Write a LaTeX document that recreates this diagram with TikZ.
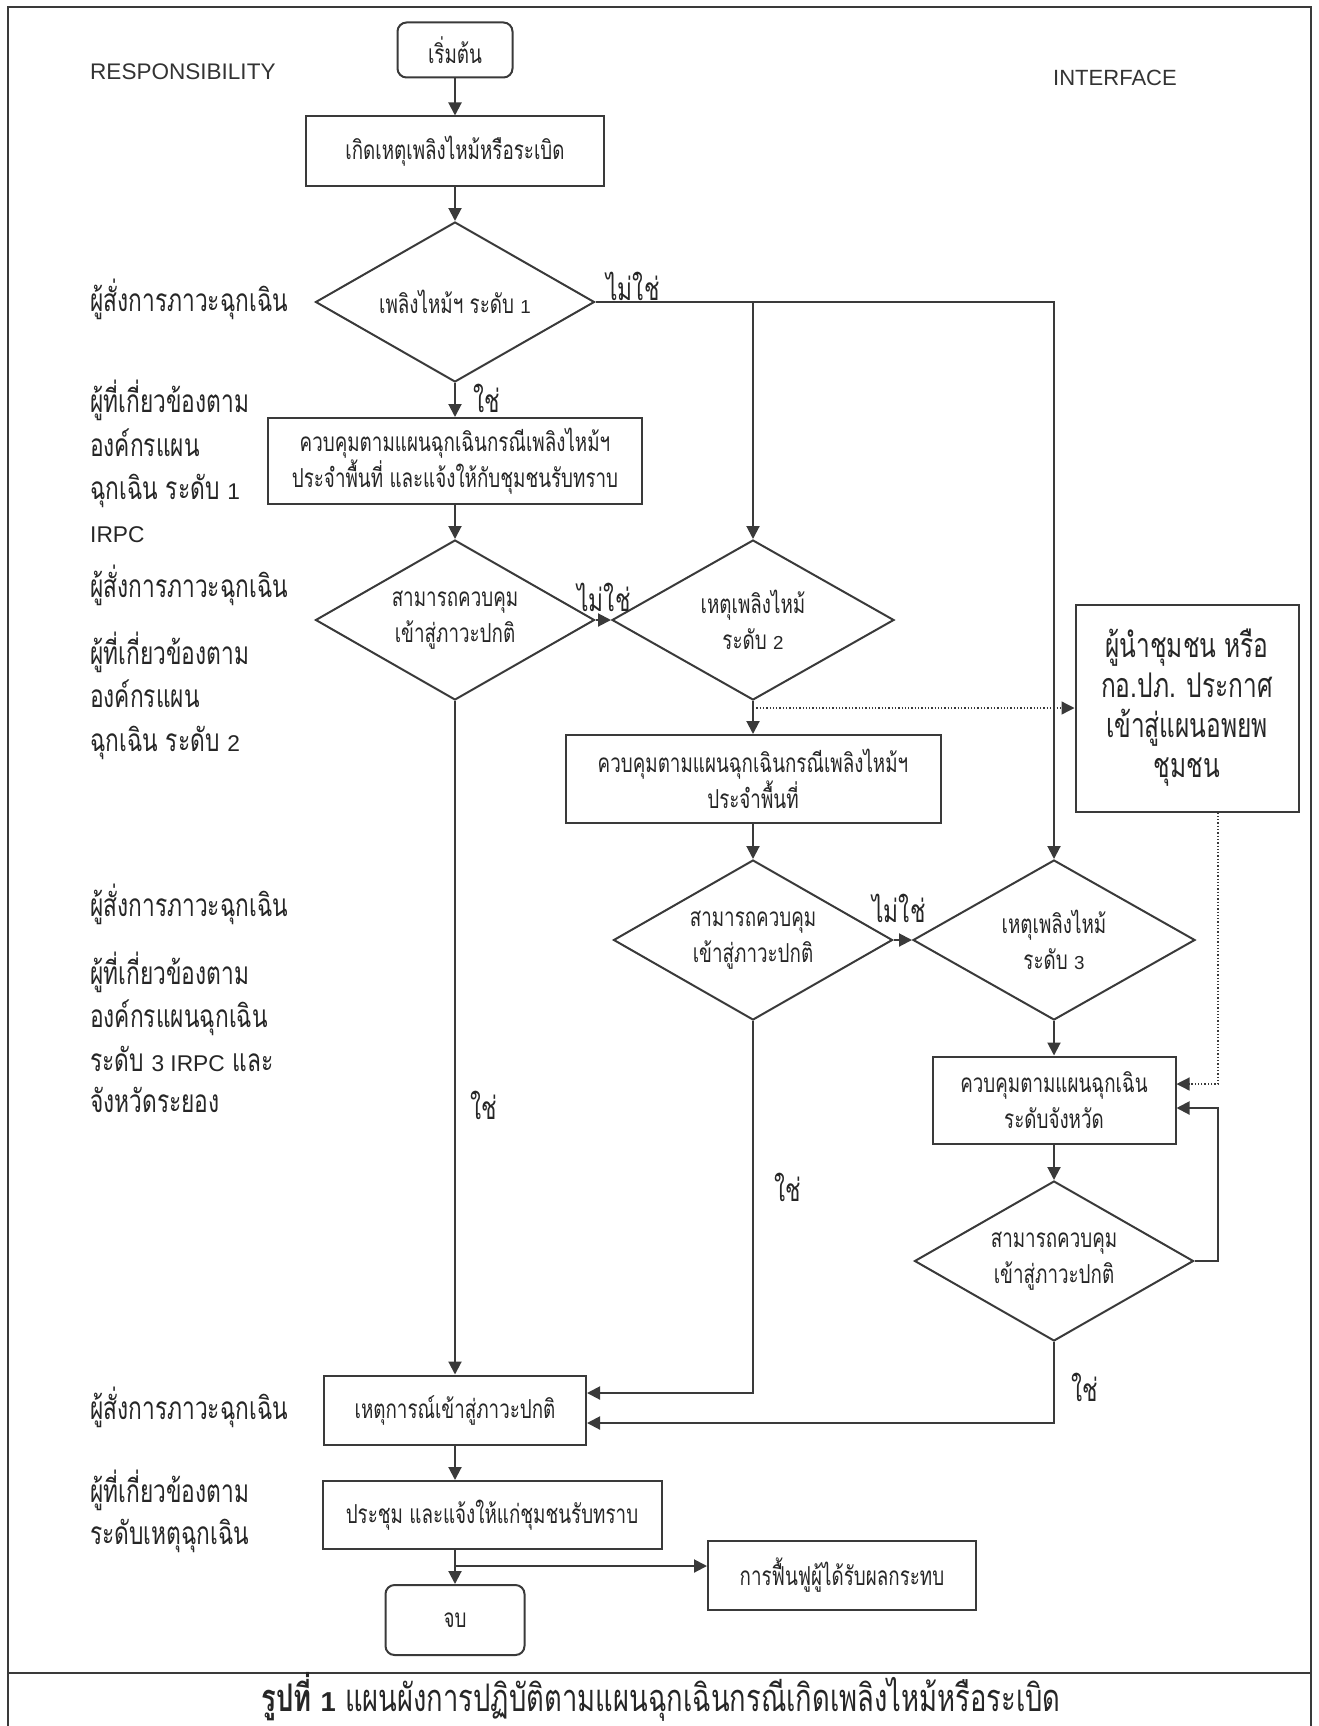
\documentclass[tikz,border=0pt]{standalone}
\usepackage{fontspec}
\setmainfont[Script=Thai, FakeStretch=0.72]{Loma}
\newfontfamily\enfont[Scale=0.72]{Liberation Sans}
\usepackage{tikz}
\usetikzlibrary{shapes.geometric}
\usetikzlibrary{arrows.meta}
\usetikzlibrary{calc}
\usetikzlibrary{positioning}

\definecolor{ink}{HTML}{3A3A3A}
\newcommand{\en}[1]{{\enfont #1}}
\newcommand{\boxfont}{\fontsize{26.1}{36}\selectfont}
\newcommand{\rolefont}{\fontsize{31.6}{33}\selectfont}

\tikzset{
  proc/.style={draw=ink, line width=2pt, fill=white, inner sep=0pt, align=center, font=\boxfont},
  term/.style={proc, rounded corners=9pt},
  ask/.style={draw=ink, line width=2pt, diamond, aspect=1.74, inner sep=0pt, align=center,
    minimum width=279, minimum height=160, font=\boxfont},
  flow/.style={draw=ink, line width=2pt, line join=miter, -{Triangle[length=13pt,width=13pt]}},
  hint/.style={draw=ink, line width=1.3pt, dotted, -{Triangle[length=13pt,width=13pt]}},
  role/.style={anchor=mid west, yshift=-7pt, inner sep=0pt, font=\rolefont, text=black!85},
  yes/.style={inner sep=0pt, font=\rolefont, text=black!85},
  lane/.style={inner sep=0pt, font=\enfont\fontsize{30.6}{33}\selectfont, text=black!80}
}

\begin{document}
\begin{tikzpicture}[x=1pt, y=-1pt, text=black!85]
\useasboundingbox (0,0) rectangle (1318,1726);

% Frame and caption
\draw[ink, line width=2pt] (8,7) rectangle (1311,1730);
\draw[ink, line width=2pt] (8,1673) -- (1311,1673);
\node[inner sep=0pt, font=\fontsize{38}{40}\selectfont] (cap) at (661,1697)
  {\textbf{รูปที่ \en{1}} แผนผังการปฏิบัติตามแผนฉุกเฉินกรณีเกิดเพลิงไหม้หรือระเบิด};

% Lane headings
\node[lane, anchor=west, font=\enfont\fontsize{31.3}{33}\selectfont] (resp) at (90,72) {RESPONSIBILITY};
\node[lane] (intf) at (1115,78) {INTERFACE};

% Responsibility labels
\foreach \y/\t [count=\i] in {
    302/ผู้สั่งการภาวะฉุกเฉิน,
    403/ผู้ที่เกี่ยวข้องตาม,
    447/องค์กรแผน,
    490/ฉุกเฉิน ระดับ \en{1},
    533/\en{IRPC},
    588/ผู้สั่งการภาวะฉุกเฉิน,
    655/ผู้ที่เกี่ยวข้องตาม,
    698/องค์กรแผน,
    742/ฉุกเฉิน ระดับ \en{2},
    907/ผู้สั่งการภาวะฉุกเฉิน,
    975/ผู้ที่เกี่ยวข้องตาม,
    1018/องค์กรแผนฉุกเฉิน,
    1062/ระดับ \en{3 IRPC} และ,
    1103/จังหวัดระยอง,
    1410/ผู้สั่งการภาวะฉุกเฉิน,
    1493/ผู้ที่เกี่ยวข้องตาม,
    1535/ระดับเหตุฉุกเฉิน} {
  \node[role] (role\i) at (90,\y) {\t};
}

% Main column
\node[term, minimum width=115, minimum height=55] (start) at (455,50) {เริ่มต้น};
\node[proc, minimum width=298, minimum height=69] (fire) at (455,151) {เกิดเหตุเพลิงไหม้หรือระเบิด};
\node[ask] (lvlA) at (455,302) {เพลิงไหม้ฯ ระดับ \en{1}};
\node[proc, minimum width=374, minimum height=86] (ctlA) at (455,461)
  {ควบคุมตามแผนฉุกเฉินกรณีเพลิงไหม้ฯ\\ประจำพื้นที่ และแจ้งให้กับชุมชนรับทราบ};
\node[ask] (chkA) at (455,620) {สามารถควบคุม\\เข้าสู่ภาวะปกติ};

% Level 2 column
\node[ask, minimum width=282] (lvlB) at (753,620) {เหตุเพลิงไหม้\\ระดับ \en{2}};
\node[proc, minimum width=375, minimum height=88] (ctlB) at (753,779)
  {ควบคุมตามแผนฉุกเฉินกรณีเพลิงไหม้ฯ\\ประจำพื้นที่};
\node[ask] (chkB) at (753,940) {สามารถควบคุม\\เข้าสู่ภาวะปกติ};

% Level 3 column
\node[ask, minimum width=282] (lvlC) at (1054,940) {เหตุเพลิงไหม้\\ระดับ \en{3}};
\node[proc, minimum width=243, minimum height=87] (ctlC) at (1054,1100)
  {ควบคุมตามแผนฉุกเฉิน\\ระดับจังหวัด};
\node[ask] (chkC) at (1054,1261) {สามารถควบคุม\\เข้าสู่ภาวะปกติ};

% Interface
\node[proc, minimum width=223, minimum height=207, font=\fontsize{34}{40}\selectfont] (lead) at (1187,708)
  {ผู้นำชุมชน หรือ\\กอ.ปภ. ประกาศ\\เข้าสู่แผนอพยพ\\ชุมชน};

% Closing
\node[proc, minimum width=262, minimum height=69] (normal) at (455,1410) {เหตุการณ์เข้าสู่ภาวะปกติ};
\node[proc, minimum width=339, minimum height=68] (meet) at (492,1515) {ประชุม และแจ้งให้แก่ชุมชนรับทราบ};
\node[term, minimum width=139, minimum height=70] (done) at (455,1620) {จบ};
\node[proc, minimum width=268, minimum height=69] (recov) at (842,1575) {การฟื้นฟูผู้ได้รับผลกระทบ};

% Connectors
\draw[flow] (start) -- (fire);
\draw[flow] (fire) -- (lvlA);
\draw[flow] (lvlA) -- (ctlA);
\draw[flow] (lvlA.east) -- (lvlA.east -| lvlC.north) -- (lvlC.north);
\draw[flow] (lvlA.east -| lvlB.north) -- (lvlB.north);
\draw[flow] (ctlA) -- (chkA);
\draw[flow] (chkA.east) -- (lvlB.west);
\draw[flow] (chkA.south) -- (normal.north);
\draw[flow] (lvlB) -- (ctlB);
\draw[hint] (lvlB.south |- lead.west) -- (lead.west);
\draw[flow] (ctlB) -- (chkB);
\draw[flow] (chkB.east) -- (lvlC.west);
\draw[flow] (lvlC) -- (ctlC);
\draw[flow] (ctlC) -- (chkC);

% Loop and interface link on the right
\coordinate (rail) at (1218,812);
\coordinate (hintIn) at ($(ctlC.east)+(0,-16)$);
\coordinate (loopIn) at ($(ctlC.east)+(0,8)$);
\draw[hint] (rail |- lead.south) -- (rail |- hintIn) -- (hintIn);
\draw[flow] (chkC.east) -- (rail |- chkC.east) -- (rail |- loopIn) -- (loopIn);

% Back to normal
\coordinate (okB) at ($(normal.east)+(0,-17)$);
\coordinate (okC) at ($(normal.east)+(0,13)$);
\draw[flow] (chkB.south) -- (chkB.south |- okB) -- (okB);
\draw[flow] (chkC.south) -- (chkC.south |- okC) -- (okC);
\draw[flow] (normal.south) -- (normal.south |- meet.north);
\draw[flow] (normal.south |- meet.south) -- (done.north);
\coordinate (fork) at ($(normal.south |- meet.south)+(0,16)$);
\draw[flow] (fork) -- (fork -| recov.west);

% Branch labels
\node[yes] (noA) at (633,286) {ไม่ใช่};
\node[yes] (noB) at (604,597) {ไม่ใช่};
\node[yes] (noC) at (899,908) {ไม่ใช่};
\node[yes] (okA1) at (487,398) {ใช่};
\node[yes] (okA2) at (484,1105) {ใช่};
\node[yes] (okB1) at (788,1187) {ใช่};
\node[yes] (okC1) at (1085,1387) {ใช่};
\end{tikzpicture}
\end{document}
